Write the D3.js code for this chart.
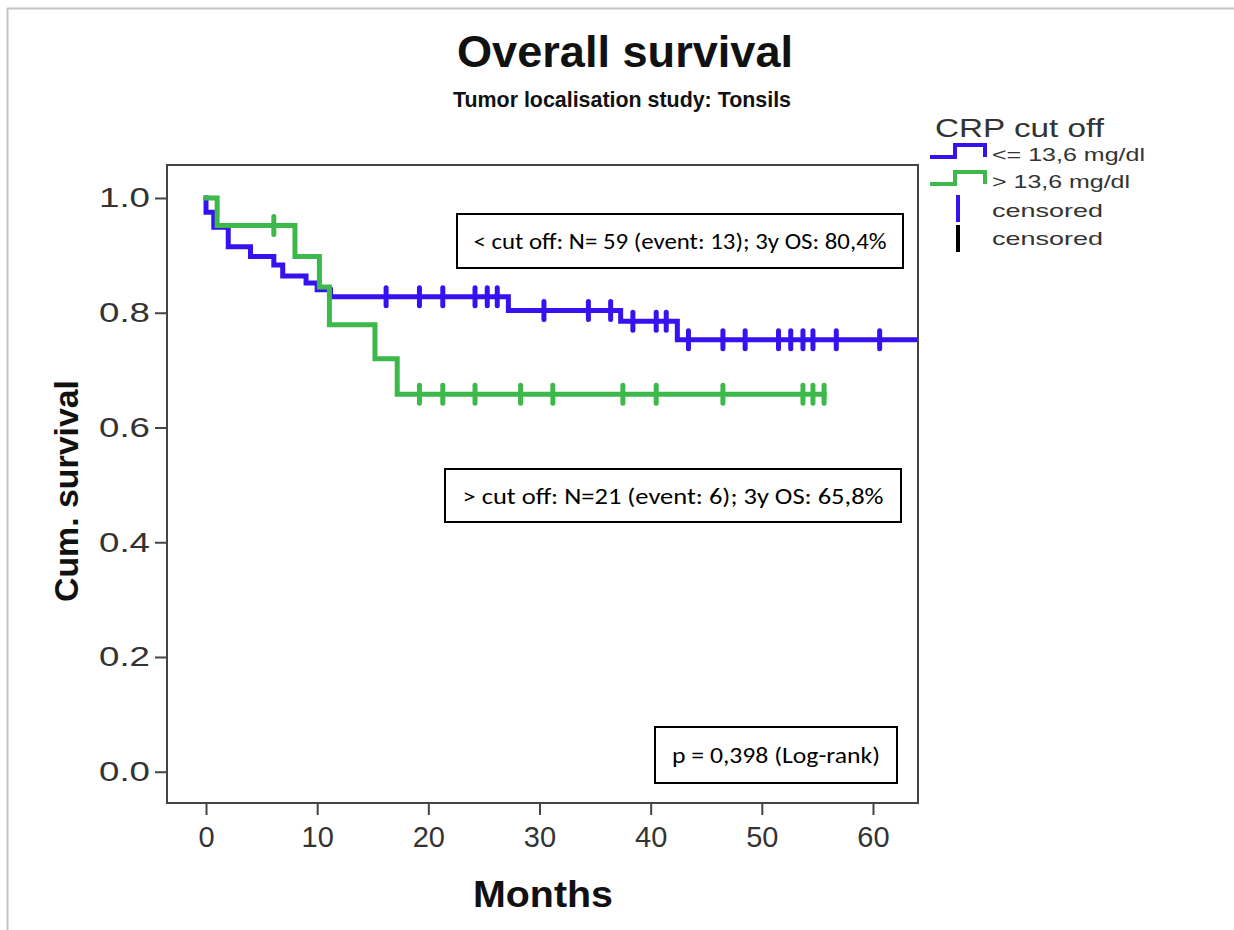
<!DOCTYPE html>
<html>
<head>
<meta charset="utf-8">
<script src="https://cdn.jsdelivr.net/npm/d3@7/dist/d3.min.js"></script>
<style>
  html, body { margin: 0; padding: 0; background: #fff; }
  svg { display: block; }
  text { font-family: "Liberation Sans", Arial, sans-serif; }
  .note { font-family: Carlito, Lato, "Open Sans", sans-serif; }
</style>
</head>
<body>
<svg id="chart" width="1234" height="930"></svg>
<script>
// Kaplan–Meier overall survival, split by CRP cut off (13,6 mg/dl)

// Group "<= 13,6 mg/dl": event times (months) and survival after each step
const lowEventTimes = [0, 0.7, 2, 4, 6.1, 6.9, 9, 10, 11.2, 27.2, 37.3, 42.4];
const lowSurvival   = [0.975, 0.949, 0.915, 0.898, 0.883, 0.864, 0.852, 0.840, 0.828, 0.804, 0.785, 0.753];
const lowLastTime   = 66;
const lowCensored   = [16.2, 19.2, 21.3, 24.2, 25.3, 26.2, 30.4, 34.4, 36.4, 38.4, 40.5, 41.4,
                       43.4, 46.5, 48.5, 51.5, 52.6, 53.7, 54.6, 56.7, 60.6];

// Group "> 13,6 mg/dl"
const highEventTimes = [1.0, 8.0, 10.2, 11.1, 15.2, 17.2];
const highSurvival   = [0.952, 0.898, 0.845, 0.779, 0.720, 0.658];
const highLastTime   = 55.6;
const highCensored   = [6.1, 19.2, 21.3, 24.2, 28.3, 31.2, 37.5, 40.5, 46.5, 53.7, 54.6, 55.6];

// Axis ticks
const xTicks = [0, 10, 20, 30, 40, 50, 60];
const yTicks = [0.0, 0.2, 0.4, 0.6, 0.8, 1.0];

// Legend and annotation texts
const legendTitle = "CRP cut off";
const legendLabels = ["<= 13,6 mg/dl", "> 13,6 mg/dl", "censored", "censored"];
const notes = [
  "< cut off: N= 59 (event: 13); 3y OS: 80,4%",
  "> cut off: N=21 (event: 6); 3y OS: 65,8%",
  "p = 0,398 (Log-rank)"
];

const BLUE = "#3512f0";
const GREEN = "#3db84b";
const AXIS = "#444";

const svg = d3.select("#chart");

// plot frame
const frame = { left: 167, right: 918, top: 165, bottom: 803 };
const x = d3.scaleLinear().domain([-3.51, 64.05]).range([frame.left, frame.right]);
const y = d3.scaleLinear().domain([-0.0545, 1.0575]).range([frame.bottom, frame.top]);

// page border lines
svg.append("line").attr("x1", 7).attr("x2", 1234).attr("y1", 8.5).attr("y2", 8.5)
  .attr("stroke", "#c4c4c4").attr("stroke-width", 2);
svg.append("line").attr("x1", 7.5).attr("x2", 7.5).attr("y1", 8).attr("y2", 930)
  .attr("stroke", "#c4c4c4").attr("stroke-width", 2);

// titles
svg.append("text").attr("x", 625).attr("y", 67).attr("text-anchor", "middle")
  .attr("font-size", 44).attr("font-weight", "bold").attr("fill", "#111")
  .attr("textLength", 336).attr("lengthAdjust", "spacingAndGlyphs").text("Overall survival");
svg.append("text").attr("x", 622).attr("y", 107).attr("text-anchor", "middle")
  .attr("font-size", 22).attr("font-weight", "bold").attr("fill", "#111")
  .attr("textLength", 338).attr("lengthAdjust", "spacingAndGlyphs")
  .text("Tumor localisation study: Tonsils");

// build step data
function steps(times, surv, last) {
  const pts = [[0, 1]];
  times.forEach((t, i) => pts.push([t, surv[i]]));
  pts.push([last, surv[surv.length - 1]]);
  return pts;
}
function survAt(times, surv, t) {
  let s = 1;
  times.forEach((tt, i) => { if (tt <= t) s = surv[i]; });
  return s;
}

svg.append("clipPath").attr("id", "plotClip").append("rect")
  .attr("x", frame.left).attr("y", frame.top)
  .attr("width", frame.right - frame.left).attr("height", frame.bottom - frame.top);

const line = d3.line().x(d => x(d[0])).y(d => y(d[1])).curve(d3.curveStepAfter);
const plot = svg.append("g").attr("clip-path", "url(#plotClip)");

const groups = [
  { times: lowEventTimes, surv: lowSurvival, last: lowLastTime, cens: lowCensored, color: BLUE },
  { times: highEventTimes, surv: highSurvival, last: highLastTime, cens: highCensored, color: GREEN }
];

groups.forEach(g => {
  plot.append("path").datum(steps(g.times, g.surv, g.last))
    .attr("d", line).attr("fill", "none").attr("stroke", g.color)
    .attr("stroke-width", 5).attr("stroke-linejoin", "miter").attr("stroke-linecap", "square");
  plot.selectAll(null).data(g.cens).enter().append("line")
    .attr("x1", d => x(d)).attr("x2", d => x(d))
    .attr("y1", d => y(survAt(g.times, g.surv, d)) - 9)
    .attr("y2", d => y(survAt(g.times, g.surv, d)) + 9)
    .attr("stroke", g.color).attr("stroke-width", 5).attr("stroke-linecap", "round");
});

// frame
svg.append("rect").attr("x", frame.left).attr("y", frame.top)
  .attr("width", frame.right - frame.left).attr("height", frame.bottom - frame.top)
  .attr("fill", "none").attr("stroke", AXIS).attr("stroke-width", 2);

// axes
const xAxis = d3.axisBottom(x).tickValues(xTicks).tickSize(12).tickPadding(11)
  .tickFormat(d3.format("d"));
const gx = svg.append("g").attr("transform", `translate(0,${frame.bottom})`).call(xAxis);
const yAxis = d3.axisLeft(y).tickValues(yTicks).tickSize(12).tickPadding(5)
  .tickFormat(d3.format(".1f"));
const gy = svg.append("g").attr("transform", `translate(${frame.left},0)`).call(yAxis);
[gx, gy].forEach(g => {
  g.select(".domain").remove();
  g.selectAll(".tick line").attr("stroke", AXIS).attr("stroke-width", 2);
  g.selectAll(".tick text").attr("font-family", "Liberation Sans, Arial, sans-serif")
    .attr("font-size", 28).attr("fill", "#333");
});
gx.selectAll(".tick text").attr("font-size", 29).attr("dy", "0.72em");
gy.selectAll(".tick text").attr("textLength", 51).attr("lengthAdjust", "spacingAndGlyphs");

// axis titles
svg.append("text").attr("x", 543).attr("y", 907).attr("text-anchor", "middle")
  .attr("font-size", 36).attr("font-weight", "bold").attr("fill", "#111")
  .attr("textLength", 140).attr("lengthAdjust", "spacingAndGlyphs").text("Months");
svg.append("text").attr("transform", "translate(78,491) rotate(-90)")
  .attr("text-anchor", "middle").attr("font-size", 33).attr("font-weight", "bold")
  .attr("fill", "#111").attr("textLength", 222).attr("lengthAdjust", "spacingAndGlyphs")
  .text("Cum. survival");

// annotation boxes
const boxes = [
  { x: 457, y: 214, w: 446, h: 54, tw: 413 },
  { x: 445, y: 469, w: 456, h: 53, tw: 421 },
  { x: 655, y: 727, w: 242, h: 56, tw: 208 }
];
boxes.forEach((b, i) => {
  svg.append("rect").attr("x", b.x).attr("y", b.y).attr("width", b.w).attr("height", b.h)
    .attr("fill", "#fff").attr("stroke", "#000").attr("stroke-width", 2);
  svg.append("text").attr("class", "note").attr("x", b.x + b.w / 2).attr("y", b.y + b.h / 2 + 8)
    .attr("text-anchor", "middle").attr("font-size", 23).attr("fill", "#000")
    .attr("textLength", b.tw).attr("lengthAdjust", "spacingAndGlyphs").text(notes[i]);
});

// legend
const lg = svg.append("g");
lg.append("text").attr("x", 935).attr("y", 137).attr("font-size", 25).attr("fill", "#333")
  .attr("textLength", 169).attr("lengthAdjust", "spacingAndGlyphs").text(legendTitle);
const icon = (y0, color) => {
  const pts = [[930, y0], [955, y0], [955, y0 - 12], [985, y0 - 12], [985, y0]];
  lg.append("path").attr("d", d3.line()(pts)).attr("fill", "none")
    .attr("stroke", color).attr("stroke-width", 4);
};
icon(157, BLUE);
icon(184, GREEN);
lg.append("line").attr("x1", 958).attr("x2", 958).attr("y1", 195).attr("y2", 222)
  .attr("stroke", BLUE).attr("stroke-width", 4);
lg.append("line").attr("x1", 958).attr("x2", 958).attr("y1", 225).attr("y2", 252)
  .attr("stroke", "#000").attr("stroke-width", 4);
const legendY = [161, 188, 217, 245];
const legendW = [153, 138, 111, 111];
legendLabels.forEach((t, i) => {
  lg.append("text").attr("x", 992).attr("y", legendY[i]).attr("font-size", 19)
    .attr("fill", "#333").attr("textLength", legendW[i]).attr("lengthAdjust", "spacingAndGlyphs")
    .text(t);
});
</script>
</body>
</html>
